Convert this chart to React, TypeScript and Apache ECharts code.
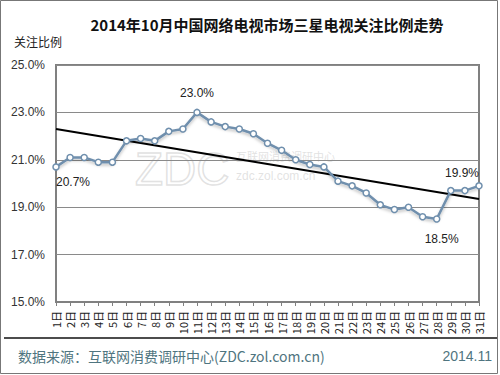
import React, { useEffect, useRef } from "react";
import * as echarts from "echarts";

const categories = Array.from({ length: 31 }, (_, i) => `${i + 1}日`);
const shareValues = [
  20.7, 21.1, 21.1, 20.9, 20.9, 21.8, 21.9, 21.8, 22.2, 22.3,
  23.0, 22.6, 22.4, 22.3, 22.1, 21.7, 21.4, 21.0, 20.8, 20.7,
  20.1, 19.9, 19.6, 19.1, 18.9, 19.0, 18.6, 18.5, 19.7, 19.7, 19.9,
];
const trendStart = 22.3;
const trendEnd = 19.35;
const yTicks = { min: 15, max: 25, interval: 2 };
const titleText = "2014年10月中国网络电视市场三星电视关注比例走势";
const yAxisTitle = "关注比例";
const sourceText = "数据来源：互联网消费调研中心(ZDC.zol.com.cn)";
const dateText = "2014.11";

const labelConfig: Record<number, any> = {
  0: { position: "bottom", distance: 5, offset: [17, 0] },
  10: { position: "top", distance: 10, offset: [0, 0] },
  27: { position: "bottom", distance: 10, offset: [5, 0] },
  30: { position: "top", distance: 3, offset: [-17, 0] },
};

export default function App() {
  const ref = useRef<HTMLDivElement>(null);
  useEffect(() => {
    document.body.style.margin = "0";
    if (!ref.current) return;
    const chart = echarts.init(ref.current, undefined, { renderer: "svg" });
    const font = "'Liberation Sans', 'Noto Sans CJK SC', sans-serif";
    const lineColor = "#6f8fad";
    const data = shareValues.map((v, i) => {
      const lc = labelConfig[i];
      if (!lc) return v;
      return {
        value: v,
        label: {
          show: true,
          position: lc.position,
          distance: lc.distance,
          offset: lc.offset,
          formatter: (p: any) => `${Number(p.value).toFixed(1)}%`,
          color: "#222",
          fontSize: 12,
          fontFamily: font,
        },
      };
    });
    chart.setOption({
      animation: false,
      backgroundColor: "#fff",
      textStyle: { fontFamily: font },
      title: {
        text: titleText,
        left: 262,
        textAlign: "center",
        top: 12,
        textStyle: {
          fontSize: 15,
          fontWeight: "bold",
          color: "#111",
          fontFamily: "'Noto Sans CJK SC', sans-serif",
        },
      },
      grid: {
        left: 56,
        right: 21,
        top: 65,
        bottom: 73,
        show: true,
        borderColor: "#808080",
        borderWidth: 2,
        containLabel: false,
      },
      xAxis: {
        type: "category",
        data: categories,
        boundaryGap: false,
        axisLine: { show: true, lineStyle: { color: "#808080", width: 2 } },
        axisTick: { show: true, length: 4, lineStyle: { color: "#808080" } },
        axisLabel: {
          rotate: 90,
          interval: 0,
          fontSize: 11,
          color: "#222",
          margin: 9,
          fontFamily: "'Noto Sans CJK SC', sans-serif",
        },
        splitLine: { show: false },
      },
      yAxis: {
        type: "value",
        min: yTicks.min,
        max: yTicks.max,
        interval: yTicks.interval,
        axisLine: { show: false },
        axisTick: { show: false },
        axisLabel: {
          formatter: (v: number) => `${v.toFixed(1)}%`,
          fontSize: 12,
          color: "#333",
          margin: 11,
        },
        splitLine: { show: true, lineStyle: { color: "#8a8a8a", width: 1 } },
      },
      graphic: [
        {
          type: "rect",
          shape: { x: 0.5, y: 0.5, width: 497, height: 373 },
          style: { fill: "none", stroke: "#777", lineWidth: 1 },
          z: 100,
        },
        {
          type: "text",
          left: 14,
          top: 35,
          style: {
            text: yAxisTitle,
            fontSize: 12,
            fill: "#222",
            fontFamily: "'Noto Sans CJK SC', sans-serif",
          },
        },
        {
          type: "text",
          x: 135,
          y: 146,
          style: {
            text: "ZDC",
            fontSize: 46,
            fill: "rgba(255,255,255,0)",
            stroke: "rgba(190,190,190,0.45)",
            lineWidth: 1.5,
            fontFamily: "'Liberation Sans', sans-serif",
          },
          z: 0,
        },
        {
          type: "text",
          x: 236,
          y: 150,
          style: {
            text: "互联网消费调研中心",
            fontSize: 11,
            fill: "rgba(190,190,190,0.45)",
            fontFamily: "'Noto Sans CJK SC', sans-serif",
          },
          z: 0,
        },
        {
          type: "text",
          x: 236,
          y: 170,
          style: {
            text: "zdc.zol.com.cn",
            fontSize: 12,
            fill: "rgba(190,190,190,0.45)",
            fontFamily: "'Liberation Sans', sans-serif",
          },
          z: 0,
        },
        {
          type: "line",
          shape: { x1: 4, y1: 338, x2: 497, y2: 338 },
          style: { stroke: "#111", lineWidth: 1.5 },
        },
        {
          type: "text",
          left: 18,
          top: 349,
          style: {
            text: sourceText,
            fontSize: 14,
            fill: "#4f7580",
            fontFamily: "'Noto Sans CJK SC', sans-serif",
          },
        },
        {
          type: "text",
          right: 8,
          top: 349,
          style: {
            text: dateText,
            fontSize: 14,
            fill: "#4f7580",
            fontFamily: "'Liberation Sans', sans-serif",
          },
        },
      ],
      series: [
        {
          type: "line",
          data,
          symbol: "circle",
          symbolSize: 6,
          showAllSymbol: true,
          lineStyle: {
            color: lineColor,
            width: 2.5,
            shadowColor: "rgba(0,0,0,0.25)",
            shadowBlur: 3,
            shadowOffsetY: 2,
          },
          itemStyle: { color: "#fff", borderColor: lineColor, borderWidth: 1.5 },
          z: 3,
        },
        {
          type: "line",
          data: [
            [categories[0], trendStart],
            [categories[categories.length - 1], trendEnd],
          ],
          symbol: "none",
          lineStyle: { color: "#000", width: 2 },
          z: 2,
        },
      ],
    });
    return () => chart.dispose();
  }, []);
  return <div ref={ref} style={{ width: 500, height: 375 }} />;
}
